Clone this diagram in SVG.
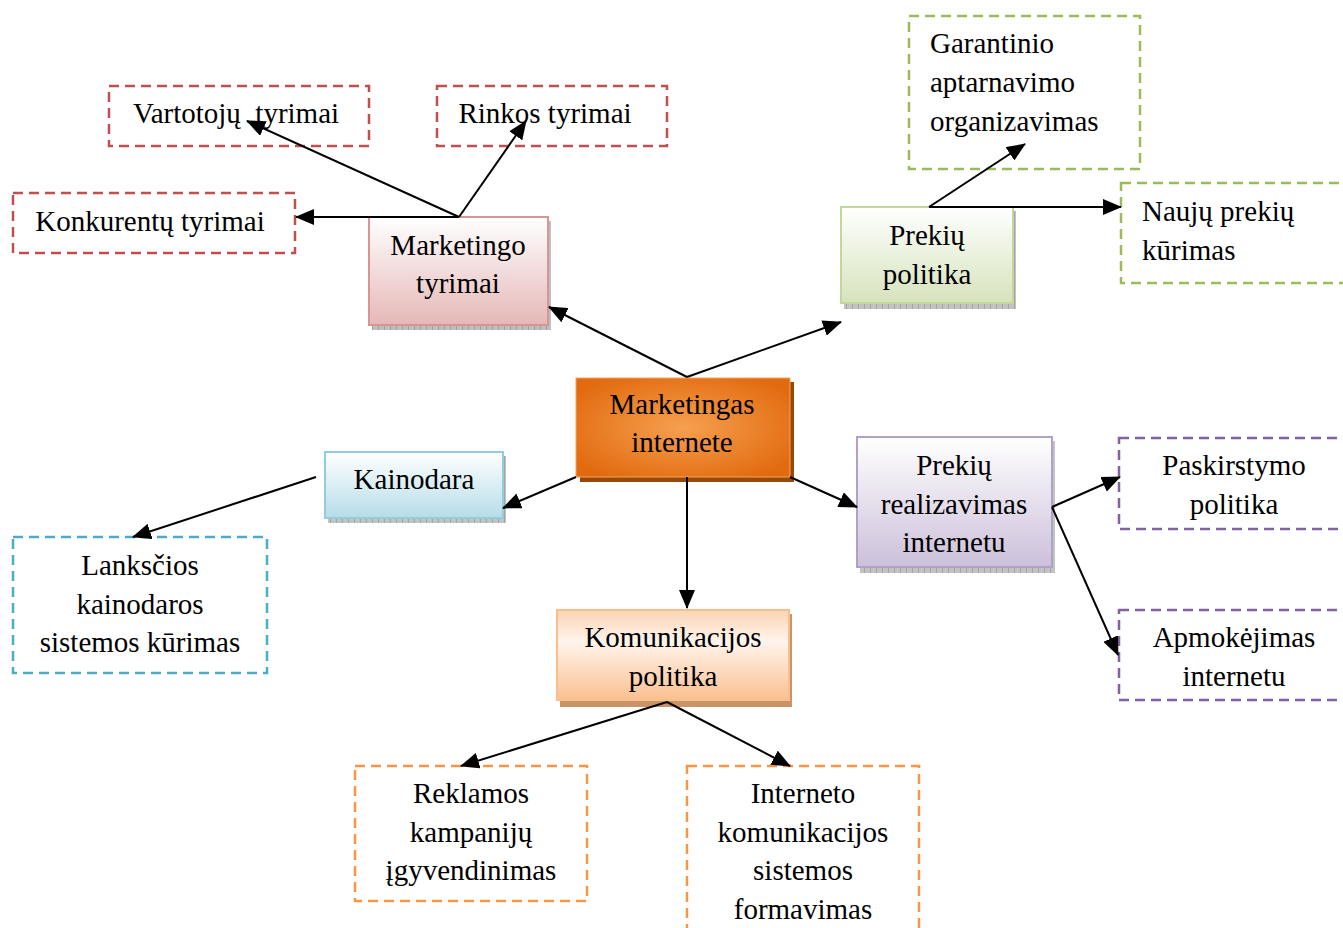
<svg xmlns="http://www.w3.org/2000/svg" width="1343" height="928" viewBox="0 0 1343 928" font-family="'Liberation Serif', 'Times New Roman', Times, serif">
  <defs>
    <style>
      text { font-family: 'Liberation Serif', 'Times New Roman', Times, serif; font-size: 29px; fill: #000; }
      .c { text-anchor: middle; }
      .l { text-anchor: start; }
      .dash { fill: none; stroke-width: 2.5; stroke-dasharray: 10 6; }
      .red { stroke: #C0504D; }
      .green { stroke: #9BBB59; }
      .purple { stroke: #8064A2; }
      .blue { stroke: #4BACC6; }
      .orange { stroke: #F79646; }
      .conn line { stroke: #000; stroke-width: 2; fill: none; marker-end: url(#arrow); }
      .box { stroke-width: 2; }
    </style>
    <marker id="arrow" markerUnits="userSpaceOnUse" markerWidth="20" markerHeight="16" refX="18" refY="8" orient="auto">
      <path d="M0,0 L19,8 L0,16 Z" fill="#000"/>
    </marker>
    <radialGradient id="gCenter" cx="0.5" cy="0.5" r="0.6">
      <stop offset="0" stop-color="#F6A050"/>
      <stop offset="1" stop-color="#E26B10"/>
    </radialGradient>
    <linearGradient id="gPink" x1="0" y1="0" x2="0" y2="1">
      <stop offset="0" stop-color="#FFFFFF"/>
      <stop offset="1" stop-color="#E5B8B7"/>
    </linearGradient>
    <linearGradient id="gGreen" x1="0" y1="0" x2="0" y2="1">
      <stop offset="0" stop-color="#FFFFFF"/>
      <stop offset="1" stop-color="#D6E3BC"/>
    </linearGradient>
    <linearGradient id="gBlue" x1="0" y1="0" x2="0" y2="1">
      <stop offset="0" stop-color="#FFFFFF"/>
      <stop offset="1" stop-color="#B6DDE8"/>
    </linearGradient>
    <linearGradient id="gPurple" x1="0" y1="0" x2="0" y2="1">
      <stop offset="0" stop-color="#FFFFFF"/>
      <stop offset="1" stop-color="#CCC0DA"/>
    </linearGradient>
    <linearGradient id="gPeach" x1="0" y1="0" x2="0" y2="1">
      <stop offset="0" stop-color="#FBD4B4"/>
      <stop offset="0.35" stop-color="#FFF4EC"/>
      <stop offset="1" stop-color="#FAC090"/>
    </linearGradient>
    <pattern id="hatch" width="6" height="4" patternUnits="userSpaceOnUse">
      <rect width="6" height="4" fill="#A9A9A9"/>
      <rect width="1" height="4" fill="#7F7F7F"/>
    </pattern>
  </defs>

  <rect width="1343" height="928" fill="#FFFFFF"/>

  <!-- outer dashed leaves -->
  <g id="vartotoju">
    <rect class="dash red" x="109" y="86" width="260" height="60"/>
    <text class="c" x="236" y="123" xml:space="preserve">Vartotojų  tyrimai</text>
  </g>
  <g id="rinkos">
    <rect class="dash red" x="437" y="86" width="230" height="60"/>
    <text class="c" x="545" y="123">Rinkos tyrimai</text>
  </g>
  <g id="konkurentu">
    <rect class="dash red" x="13" y="193" width="282" height="60"/>
    <text class="c" x="150" y="231">Konkurentų tyrimai</text>
  </g>
  <g id="garantinio">
    <rect class="dash green" x="909" y="16" width="231" height="153"/>
    <text class="l" x="930" y="53">Garantinio</text>
    <text class="l" x="930" y="92">aptarnavimo</text>
    <text class="l" x="930" y="131">organizavimas</text>
  </g>
  <g id="nauju">
    <rect class="dash green" x="1121" y="183" width="240" height="100"/>
    <text class="l" x="1142" y="221">Naujų prekių</text>
    <text class="l" x="1142" y="260">kūrimas</text>
  </g>
  <g id="paskirstymo">
    <rect class="dash purple" x="1119" y="438" width="240" height="91"/>
    <text class="c" x="1234" y="475">Paskirstymo</text>
    <text class="c" x="1234" y="514">politika</text>
  </g>
  <g id="apmokejimas">
    <rect class="dash purple" x="1119" y="610" width="240" height="90"/>
    <text class="c" x="1234" y="647">Apmokėjimas</text>
    <text class="c" x="1234" y="686">internetu</text>
  </g>
  <g id="lanksciios">
    <rect class="dash blue" x="13" y="537" width="254" height="136"/>
    <text class="c" x="140" y="575">Lanksčios</text>
    <text class="c" x="140" y="614">kainodaros</text>
    <text class="c" x="140" y="652">sistemos kūrimas</text>
  </g>
  <g id="reklamos">
    <rect class="dash orange" x="355" y="766" width="232" height="135"/>
    <text class="c" x="471" y="803">Reklamos</text>
    <text class="c" x="471" y="842">kampanijų</text>
    <text class="c" x="471" y="880">įgyvendinimas</text>
  </g>
  <g id="interneto">
    <rect class="dash orange" x="687" y="766" width="232" height="180"/>
    <text class="c" x="803" y="803">Interneto</text>
    <text class="c" x="803" y="842">komunikacijos</text>
    <text class="c" x="803" y="880">sistemos</text>
    <text class="c" x="803" y="919">formavimas</text>
  </g>

  <!-- primary nodes -->
  <g id="marketingo-tyrimai">
    <rect x="372" y="221" width="179" height="109" fill="url(#hatch)" opacity="0.75"/>
    <rect class="box" x="369" y="217" width="179" height="108" fill="url(#gPink)" stroke="#D99594"/>
    <text class="c" x="458" y="255">Marketingo</text>
    <text class="c" x="458" y="293">tyrimai</text>
  </g>
  <g id="prekiu-politika">
    <rect x="844" y="211" width="172" height="98" fill="url(#hatch)" opacity="0.7"/>
    <rect class="box" x="841" y="207" width="172" height="96" fill="url(#gGreen)" stroke="#C3D69B"/>
    <text class="c" x="927" y="245">Prekių</text>
    <text class="c" x="927" y="284">politika</text>
  </g>
  <g id="kainodara">
    <rect x="328" y="456" width="178" height="67" fill="url(#hatch)" opacity="0.7"/>
    <rect class="box" x="325" y="452" width="178" height="66" fill="url(#gBlue)" stroke="#92CDDC"/>
    <text class="c" x="414" y="489">Kainodara</text>
  </g>
  <g id="prekiu-realizavimas">
    <rect x="860" y="441" width="195" height="132" fill="url(#hatch)" opacity="0.7"/>
    <rect class="box" x="857" y="437" width="195" height="130" fill="url(#gPurple)" stroke="#B2A1C7"/>
    <text class="c" x="954" y="475">Prekių</text>
    <text class="c" x="954" y="514">realizavimas</text>
    <text class="c" x="954" y="552">internetu</text>
  </g>
  <g id="komunikacijos-politika">
    <rect x="560" y="614" width="232" height="93" fill="#C89468"/>
    <rect class="box" x="557" y="610" width="232" height="90" fill="url(#gPeach)" stroke="#FABF8F"/>
    <text class="c" x="673" y="647">Komunikacijos</text>
    <text class="c" x="673" y="686">politika</text>
  </g>
  <g id="marketingas-internete">
    <rect x="580" y="382" width="214" height="100" fill="#984807"/>
    <rect x="576" y="378" width="214" height="99" fill="url(#gCenter)" stroke="#F4A460" stroke-width="1"/>
    <text class="c" x="682" y="414">Marketingas</text>
    <text class="c" x="682" y="452">internete</text>
  </g>

  <!-- connectors -->
  <g id="connectors" class="conn">
    <line x1="687" y1="377" x2="549" y2="307"/>
    <line x1="687" y1="377" x2="841" y2="322"/>
    <line x1="459" y1="217" x2="247" y2="121"/>
    <line x1="459" y1="217" x2="526" y2="121"/>
    <line x1="459" y1="217" x2="296" y2="217"/>
    <line x1="929" y1="207" x2="1025" y2="144"/>
    <line x1="929" y1="207" x2="1121" y2="207"/>
    <line x1="576" y1="477" x2="503" y2="508"/>
    <line x1="316" y1="477" x2="133" y2="537"/>
    <line x1="687" y1="477" x2="687" y2="608"/>
    <line x1="790" y1="477" x2="857" y2="507"/>
    <line x1="1052" y1="507" x2="1120" y2="477"/>
    <line x1="1052" y1="507" x2="1118" y2="655"/>
    <line x1="667" y1="702" x2="461" y2="766"/>
    <line x1="667" y1="702" x2="790" y2="766"/>
  </g>
</svg>
